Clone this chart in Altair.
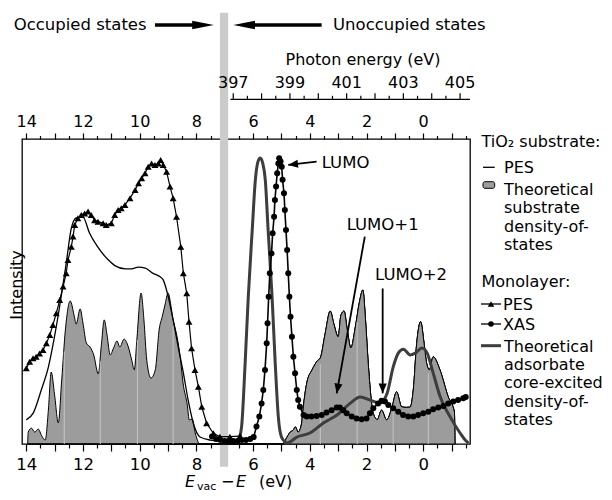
import math
import altair as alt
import numpy as np
import pandas as pd

FONT = "DejaVu Sans"

# ---------------- data ----------------
# x: E_vac - E (eV), y: intensity (arbitrary units, 0..100 = plot height)
sub_pes_E = [14.0, 13.75, 13.47, 13.22, 12.98, 12.77, 12.59, 12.41, 12.24, 12.0, 11.77, 11.48,
             11.1, 10.86, 10.5, 10.33, 10.04, 9.8, 9.56, 9.28, 9.17, 8.99, 8.82, 8.64, 8.46,
             8.29, 8.11, 7.87, 7.51, 7.2]
sub_pes_I = [7.9, 10.2, 17.7, 25.2, 36.4, 48.2, 59.3, 70.8, 74.1, 74.4, 69.2, 64.6,
             60.3, 58.4, 57.4, 57.4, 58.0, 57.7, 56.1, 54.8, 53.8, 48.2, 40.7, 31.8, 23.3,
             14.4, 6.9, 2.3, 1.3, 1.0]

mono_pes_E = [14.0, 13.88, 13.76, 13.65, 13.53, 13.41, 13.29, 13.17, 13.06, 12.94, 12.82, 12.7,
              12.59, 12.53, 12.41, 12.35, 12.29, 12.18, 12.06, 11.94, 11.82, 11.71, 11.59,
              11.47, 11.29, 11.18, 11.0, 10.88, 10.76, 10.65, 10.52, 10.34, 10.16, 10.04,
              9.93, 9.81, 9.7, 9.58, 9.46, 9.34, 9.26, 9.17, 9.05, 8.93, 8.82, 8.7, 8.55,
              8.46, 8.34, 8.26, 8.17, 8.05, 7.93, 7.81, 7.64, 7.4, 7.17, 6.82, 6.46]
mono_pes_I = [24.8, 27.0, 28.1, 28.6, 29.7, 30.8, 33.0, 35.7, 39.0, 42.9, 47.2, 51.6,
              56.0, 60.3, 64.7, 68.0, 71.8, 74.0, 75.1, 75.6, 76.2, 75.1, 73.4,
              72.9, 72.4, 71.8, 72.4, 75.1, 76.7, 77.3, 78.4, 80.6, 83.3, 85.5,
              87.1, 88.8, 90.9, 92.0, 91.5, 92.0, 93.1, 91.5, 89.3, 84.4, 80.6, 74.5, 64.7,
              56.0, 49.4, 40.1, 31.4, 24.3, 18.8, 12.2, 6.8, 3.5, 2.4, 2.4, 2.6]

xas_E = [7.45, 7.3, 7.15, 7.0, 6.85, 6.7, 6.55, 6.4, 6.25, 6.1, 5.98, 5.88, 5.78, 5.7,
         5.64, 5.58, 5.52, 5.49, 5.45, 5.41, 5.35, 5.31, 5.26, 5.23, 5.19, 5.15, 5.11,
         5.08, 5.03, 4.99, 4.96, 4.91, 4.88, 4.84, 4.8, 4.76, 4.72, 4.68, 4.63, 4.58,
         4.52, 4.46, 4.41, 4.35, 4.22, 4.11, 3.94, 3.76, 3.58, 3.41, 3.23, 3.05, 2.94,
         2.82, 2.7, 2.52, 2.35, 2.17, 2.0, 1.88, 1.76, 1.59, 1.47, 1.35, 1.23, 1.06,
         0.88, 0.71, 0.53, 0.35, 0.18, 0.0, -0.18, -0.35, -0.53, -0.71, -0.88, -1.06,
         -1.23, -1.41, -1.5]
xas_I = [2.5, 1.6, 1.3, 1.0, 0.8, 1.0, 1.0, 1.3, 1.3, 1.6, 2.3, 5.7, 9.0, 13.3,
         17.7, 24.3, 33.0, 39.6, 48.3, 56.0, 62.5, 69.1, 74.5, 80.0, 84.4, 88.8, 92.0,
         93.7, 92.6, 90.9, 86.6, 82.2, 76.7, 70.2, 63.6, 56.0, 48.3, 41.7, 35.2, 28.6,
         23.2, 17.7, 14.4, 12.2, 9.5, 9.0, 9.0, 9.2, 9.5, 10.3, 11.1, 12.0, 12.0,
         11.1, 10.1, 9.0, 8.4, 8.1, 8.4, 10.1, 11.7, 13.3, 14.2, 13.9, 12.8, 11.7,
         10.6, 9.5, 9.0, 9.0, 9.5, 10.1, 10.6, 11.4, 12.0, 12.5, 13.3, 13.9,
         14.4, 15.0, 15.4]

ads_E = [6.6, 6.5, 6.4, 6.28, 6.17, 6.03, 5.92, 5.83, 5.75, 5.66, 5.57, 5.47, 5.33, 5.22,
         5.11, 5.0, 4.87, 4.8, 4.45, 4.0, 3.52, 3.04, 2.57, 2.22, 1.87, 1.52, 1.27, 1.06,
         0.88, 0.7, 0.46, 0.28, 0.04, -0.14, -0.35, -0.6, -0.95, -1.3, -1.48, -1.6]
ads_I = [0.3, 1.5, 6.2, 26.6, 48.2, 70.2, 86.6, 92.5, 93.8, 92.1, 86.6, 70.2, 48.2, 26.6,
         8.9, 2.3, 0.7, 0.3, 2.3, 3.6, 6.9, 9.5, 13.4, 15.4, 14.4, 13.4, 16.7, 25.2,
         29.8, 31.1, 29.2, 29.8, 31.5, 29.8, 23.3, 15.4, 8.9, 3.6, 1.3, 0.3]

dos_occ_E = [13.95, 13.93, 13.82, 13.7, 13.58, 13.45, 13.33, 13.22, 13.12, 13.0, 12.87, 12.75,
             12.62, 12.45, 12.3, 12.24, 12.1, 12.0, 11.88, 11.75, 11.62, 11.46, 11.35, 11.25,
             11.15, 11.04, 10.92, 10.8, 10.7, 10.55, 10.4, 10.28, 10.19, 10.1, 9.95, 9.85,
             9.75, 9.6, 9.45, 9.31, 9.2, 9.1, 9.0, 8.82, 8.68, 8.57, 8.47, 8.32, 8.25, 8.15,
             8.04, 7.94, 7.9]
dos_occ_I = [0.0, 3.9, 5.2, 3.9, 4.9, 2.6, 1.3, 11.1, 23.6, 16.1, 6.9, 21.0,
             37.4, 46.9, 41.6, 39.3, 44.3, 39.7, 33.1, 31.8, 29.2, 23.0, 32.5, 40.7,
             35.7, 29.2, 31.5, 33.8, 31.8, 34.4, 31.8, 27.5, 24.3, 34.1, 49.5, 40.7,
             27.5, 21.6, 24.3, 37.7, 41.9, 45.9, 49.5, 40.7, 35.1, 28.5, 20.0, 12.8, 7.9, 8.2,
             3.6, 0.7, 0.0]
dos_unocc_E = [4.95, 4.85, 4.69, 4.58, 4.51, 4.41, 4.3, 4.2, 4.1, 3.92, 3.74, 3.63, 3.46,
               3.28, 3.15, 3.0, 2.9, 2.79, 2.68, 2.55, 2.4, 2.25, 2.13, 2.03, 1.94, 1.76,
               1.62, 1.47, 1.29, 1.11, 0.94, 0.76, 0.6, 0.46, 0.35, 0.23, 0.09, -0.03,
               -0.12, -0.22, -0.35, -0.59, -0.88, -1.1, -1.12]
dos_unocc_I = [0.0, 1.5, 3.9, 4.6, 5.6, 3.9, 6.2, 14.4, 20.3, 24.3, 27.2, 28.2, 36.1,
               43.6, 39.3, 35.2, 42.3, 43.6, 37.5, 31.5, 38.0, 46.5, 50.5, 40.0, 26.5, 10.0,
               8.0, 11.1, 7.9, 11.7, 17.1, 12.2, 12.0, 12.1, 17.7, 33.0, 40.1, 33.0,
               26.5, 24.3, 28.6, 24.3, 15.5, 10.5, 0.0]
dos_grid_E = [12.66, 11.39, 10.08, 8.82, 3.63, 2.33, 1.06, -0.18]

e_tick_labels = [14, 12, 10, 8, 6, 4, 2, 0]
photon_labels = [397, 399, 401, 403, 405]
photon_zero_E = 403.7          # E_vac - E = 403.7 - photon energy
photon_line_hv = [396.9, 405.35]
band_E = [7.17, 6.88]

lumo_labels = ["LUMO", "LUMO+1", "LUMO+2"]
lumo_text_E = [3.58, 2.70, 1.70]
lumo_text_I = [90.4, 70.2, 53.8]
lumo_tail_E = [3.76, 2.06, 1.43]
lumo_tail_I = [92.6, 68.0, 51.0]
lumo_tip_E = [4.76, 3.05, 1.43]
lumo_tip_I = [91.5, 16.6, 16.6]

# ---------------- scales / layout ----------------
W, H = 448, 305
XDOM = [-1.65, 14.15]
xs = alt.Scale(domain=XDOM, reverse=True, nice=False, zero=False)
ys = alt.Scale(domain=[0, 100], nice=False, zero=False)
PX_E = W / (XDOM[1] - XDOM[0])
PX_I = H / 100.0
ONE = pd.DataFrame({"k": [0]})

e_ticks = [14 - 0.5 * i for i in range(32)]


def e_axis(orient, big, small, pad, size):
    return alt.Axis(
        orient=orient, values=e_ticks, title=None, domain=False, grid=False,
        labelExpr="datum.value % 2 == 0 ? '' + datum.value : ''",
        tickSize={"condition": {"test": "datum.value % 1 == 0", "value": big}, "value": small},
        tickColor="black", tickWidth=1.2, labelColor="black", labelFont=FONT,
        labelFontSize=size, labelBaseline="alphabetic", labelPadding=pad,
        labelFlush=False, labelOverlap=False, labelBound=False,
    )


def text(s, x, y, size=16, align="left", baseline="alphabetic", style=None, angle=None, lh=None):
    kw = dict(text=s, align=align, baseline=baseline, fontSize=size, font=FONT,
              color="black", clip=False)
    if style:
        kw["fontStyle"] = style
    if angle is not None:
        kw["angle"] = angle
    if lh:
        kw["lineHeight"] = lh
    return alt.Chart(ONE).mark_text(**kw).encode(x=alt.value(x), y=alt.value(y))


def hline(x1, x2, y, color="black", width=1.3):
    return alt.Chart(ONE).mark_rule(color=color, strokeWidth=width, clip=False).encode(
        x=alt.value(x1), x2=alt.value(x2), y=alt.value(y))


def sym(shape, x, y, size, color="black"):
    return alt.Chart(ONE).mark_point(shape=shape, filled=True, size=size, color=color,
                                     opacity=1, strokeWidth=0, clip=False).encode(
        x=alt.value(x), y=alt.value(y))


X = lambda f="E", axis=None: alt.X(f"{f}:Q", scale=xs, axis=axis)
Y = lambda f="I": alt.Y(f"{f}:Q", scale=ys, axis=None)

# ---------------- layers ----------------
band = alt.Chart(pd.DataFrame({"E1": [band_E[0]], "E2": [band_E[1]]})).mark_rect(
    color="#cbcbcb", clip=False).encode(x=X("E1"), x2="E2", y=alt.value(-126.3), y2=alt.value(327.7))

dos_df = pd.concat([
    pd.DataFrame({"E": dos_occ_E, "I": dos_occ_I, "seg": "occ"}),
    pd.DataFrame({"E": dos_unocc_E, "I": dos_unocc_I, "seg": "unocc"}),
])
dos = alt.Chart(dos_df).mark_area(color="#9c9c9c", stroke="black", strokeWidth=1,
                                  interpolate="monotone").encode(
    x=X(axis=e_axis("bottom", 7, 4, 18.8, 16.5)), y=Y(), detail="seg:N")

all_E = np.array(dos_occ_E + dos_unocc_E)
all_I = np.array(dos_occ_I + dos_unocc_I)
order = np.argsort(all_E)
grid_top = [max(0.0, float(np.interp(e, all_E[order], all_I[order])) - 2.0) for e in dos_grid_E]
grid = alt.Chart(pd.DataFrame({"E": dos_grid_E, "I0": 0.0, "I1": grid_top})).mark_rule(
    color="#c6c6c6", strokeWidth=1).encode(x=X(), y=Y("I0"), y2="I1")

sub_pes = alt.Chart(pd.DataFrame({"E": sub_pes_E, "I": sub_pes_I})).mark_line(
    color="black", strokeWidth=1.3, interpolate="monotone").encode(x=X(), y=Y())

ads = alt.Chart(pd.DataFrame({"E": ads_E, "I": ads_I})).mark_line(
    color="#3d3d3d", strokeWidth=3, interpolate="monotone").encode(x=X(), y=Y())

mono = alt.Chart(pd.DataFrame({"E": mono_pes_E, "I": mono_pes_I})).mark_line(
    color="black", strokeWidth=1.2,
    point=alt.OverlayMarkDef(shape="triangle-up", filled=True, size=48, color="black")).encode(
    x=X(axis=e_axis("top", 6, 3.5, 6.6, 16)), y=Y())

xas = alt.Chart(pd.DataFrame({"E": xas_E, "I": xas_I})).mark_line(
    color="black", strokeWidth=1.6,
    point=alt.OverlayMarkDef(shape="circle", filled=True, size=36, color="black")).encode(
    x=X(), y=Y())

# LUMO arrows
arr = pd.DataFrame({"tE": lumo_tail_E, "tI": lumo_tail_I, "hE": lumo_tip_E, "hI": lumo_tip_I,
                    "label": lumo_labels, "lE": lumo_text_E, "lI": lumo_text_I})
arr["ang"] = [math.degrees(math.atan2(-(hi - ti) * PX_I, -(he - te) * PX_E)) % 360
              for te, ti, he, hi in zip(arr.tE, arr.tI, arr.hE, arr.hI)]
shafts = alt.Chart(arr).mark_rule(color="black", strokeWidth=1.8).encode(
    x=X("tE"), y=Y("tI"), x2="hE", y2="hI")
heads = alt.Chart(arr).mark_point(shape="M0,0L-1,-0.42L-1,0.42Z", filled=True, size=380,
                                  color="black", opacity=1, strokeWidth=0).encode(
    x=X("hE"), y=Y("hI"), angle=alt.Angle("ang:Q", scale=None))
lumo_txt = alt.Chart(arr).mark_text(align="left", baseline="alphabetic", fontSize=16.5,
                                    font=FONT, color="black").encode(
    x=X("lE"), y=Y("lI"), text="label:N")

# photon-energy axis (drawn on the same energy scale)
ph_ticks = pd.DataFrame({"hv": [397 + 0.5 * i for i in range(17)]})
ph_ticks["E"] = photon_zero_E - ph_ticks["hv"]
ph_major = ph_ticks[ph_ticks.hv % 1 == 0]
ph_minor = ph_ticks[ph_ticks.hv % 1 != 0]
ph_line = alt.Chart(pd.DataFrame({"E1": [photon_zero_E - photon_line_hv[0]],
                                  "E2": [photon_zero_E - photon_line_hv[1]]})).mark_rule(
    color="black", strokeWidth=1.3, clip=False).encode(x=X("E1"), x2="E2", y=alt.value(-39.7))
ph_t1 = alt.Chart(ph_major).mark_rule(color="black", strokeWidth=1.2, clip=False).encode(
    x=X(), y=alt.value(-39.7), y2=alt.value(-45.7))
ph_t2 = alt.Chart(ph_minor).mark_rule(color="black", strokeWidth=1.2, clip=False).encode(
    x=X(), y=alt.value(-39.7), y2=alt.value(-43.2))
ph_lab_df = pd.DataFrame({"hv": photon_labels})
ph_lab_df["E"] = photon_zero_E - ph_lab_df["hv"]
ph_labels = alt.Chart(ph_lab_df).mark_text(align="center", baseline="alphabetic", fontSize=16,
                                           font=FONT, color="black", clip=False).encode(
    x=X(), y=alt.value(-50.7), text="hv:N")

# top arrows (custom arrow glyphs)
RIGHT_ARROW = "M-1,-0.058L0.265,-0.058L0.265,-0.148L1,0L0.265,0.148L0.265,0.058L-1,0.058Z"
LEFT_ARROW = "M1,-0.0385L-0.511,-0.0385L-0.511,-0.0985L-1,0L-0.511,0.0985L-0.511,0.0385L1,0.0385Z"

LX = 459.5   # legend heading x (plot coords)
TX = 482.0   # legend text x
SX1, SX2 = 459.0, 479.0

layers = [
    band, dos, grid, sub_pes, ads, mono, xas, shafts, heads, lumo_txt,
    ph_line, ph_t1, ph_t2, ph_labels,
    text("Photon energy (eV)", 341, -74, size=16, align="center"),
    text("Occupied states", -8.3, -109, size=16.5),
    text("Unoccupied states", 311, -109, size=16.5),
    sym(RIGHT_ARROW, 162.4, -114, 58.8 ** 2),
    sym(LEFT_ARROW, 255.5, -114, 88.3 ** 2),
    text("Intensity", 0, 146, size=16, align="center", angle=270),
    # x-axis title: E_vac - E (eV)
    text("E", 163, 348, size=16, style="italic"),
    text("vac", 175, 351, size=11),
    text("\u2212", 199, 348, size=16),
    text("E", 214, 348, size=16, style="italic"),
    text("(eV)", 237, 348, size=16),
    # legend
    text("TiO\u2082 substrate:", LX, 7.7),
    hline(461, 472.7, 28.3, width=1.3),
    text("PES", TX, 34.3),
    alt.Chart(ONE).mark_rect(fill="#9c9c9c", stroke="black", strokeWidth=1, cornerRadius=2,
                             clip=False).encode(
        x=alt.value(461), x2=alt.value(472.7), y=alt.value(42.7), y2=alt.value(49.3)),
    text(["Theoretical", "substrate", "density-of-", "states"], TX, 56, lh=18.3),
    text("Monolayer:", LX, 147.7),
    hline(SX1, SX2, 165, width=1.3),
    sym("triangle-up", (SX1 + SX2) / 2, 165, 44),
    text("PES", TX - 1, 171),
    hline(SX1, SX2, 185, width=1.3),
    sym("circle", (SX1 + SX2) / 2, 185, 30),
    text("XAS", TX - 1, 191),
    hline(SX1, SX2, 206.7, color="#3d3d3d", width=3),
    text(["Theoretical", "adsorbate", "core-excited", "density-of-", "states"], TX, 212.7, lh=18.3),
]

chart = alt.layer(*layers).properties(
    width=W, height=H,
    padding={"left": 14, "top": 131, "right": 134, "bottom": 48},
    autosize=alt.AutoSizeParams(type="none"),
).configure_view(stroke="black", strokeWidth=1.3)

chart.save("out.html", embed_options={"renderer": "svg", "actions": False})
